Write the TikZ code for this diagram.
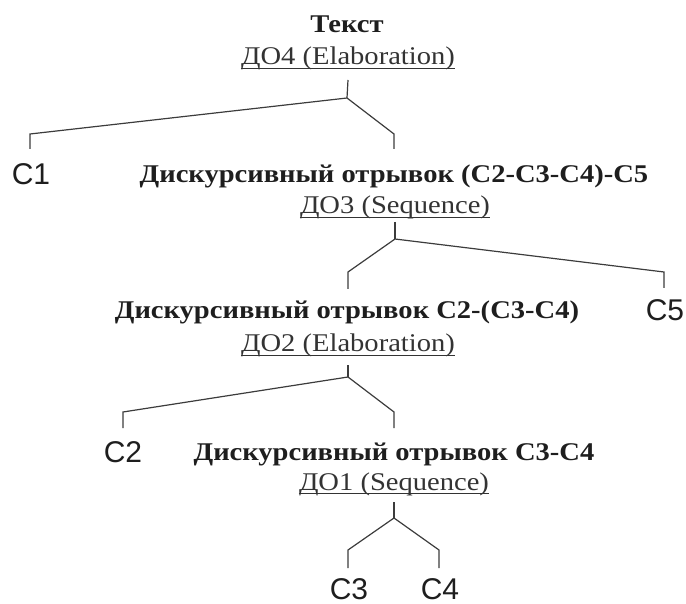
\documentclass[tikz,border=0pt]{standalone}
\usepackage{fontspec}
\newfontfamily\treeserif[FakeStretch=1.12]{Liberation Serif}
\newfontfamily\treesans{Liberation Sans}
\definecolor{ink}{HTML}{1E1E1E}
\definecolor{relink}{HTML}{333333}
\definecolor{linkgray}{HTML}{3C3C3C}
\tikzset{
  span/.style={anchor=base, inner sep=0pt, text=ink,
    font=\treeserif\fontsize{25.5}{29}\selectfont\bfseries},
  rel/.style={anchor=base, inner sep=0pt, text=relink,
    font=\treeserif\fontsize{25.5}{29}\selectfont},
  leaf/.style={anchor=base, inner sep=0pt, text=ink,
    font=\treesans\fontsize{30}{34}\selectfont},
  branch/.style={draw=linkgray, line width=1.2pt, line join=miter},
  relrule/.style={draw=relink, line width=0.9pt}
}
\begin{document}
\begin{tikzpicture}[x=1pt,y=-1pt]
\useasboundingbox (0,0) rectangle (686,604);

% level 0
\node[span] (t0) at (347,33) {Текст};
\node[rel]  (r4) at (348,65) {ДО4 (Elaboration)};
\coordinate (j4) at (347,98);

% level 1
\node[leaf] (c1) at (31,185) {C1};
\node[span] (d3) at (394,183) {Дискурсивный отрывок (С2-С3-С4)-С5};
\node[rel]  (r3) at (395,214) {ДО3 (Sequence)};
\coordinate (j3) at (395,239);

% level 2
\node[span] (d2) at (347,319) {Дискурсивный отрывок С2-(С3-С4)};
\node[leaf] (c5) at (665,321) {C5};
\node[rel]  (r2) at (348,352) {ДО2 (Elaboration)};
\coordinate (j2) at (348,377);

% level 3
\node[leaf] (c2) at (123,462) {C2};
\node[span] (d1) at (394,460) {Дискурсивный отрывок С3-С4};
\node[rel]  (r1) at (394,490) {ДО1 (Sequence)};
\coordinate (j1) at (394,518);

% level 4
\node[leaf] (c3) at (349,599) {C3};
\node[leaf] (c4) at (440,599) {C4};

% underlines of the relation labels
\foreach \r in {r4,r3,r2,r1}
  \draw[relrule] ([yshift=-3.5pt]\r.base west) -- ([yshift=-3.5pt]\r.base east);

% branches of ДО4
\draw[branch] ([yshift=-15pt]r4.base) -- (j4);
\draw[branch] (j4) -- ([xshift=-1pt,yshift=51pt]c1.base) -- ([xshift=-1pt,yshift=36pt]c1.base);
\draw[branch] (j4) -- ([yshift=49pt]d3.base) -- ([yshift=34pt]d3.base);

% branches of ДО3
\draw[branch] ([yshift=-8pt]r3.base) -- (j3);
\draw[branch] (j3) -- ([xshift=1pt,yshift=47pt]d2.base) -- ([xshift=1pt,yshift=30pt]d2.base);
\draw[branch] (j3) -- ([xshift=-1pt,yshift=49pt]c5.base) -- ([xshift=-1pt,yshift=33pt]c5.base);

% branches of ДО2
\draw[branch] ([yshift=-13pt]r2.base) -- (j2);
\draw[branch] (j2) -- ([yshift=50pt]c2.base) -- ([yshift=34pt]c2.base);
\draw[branch] (j2) -- ([yshift=48pt]d1.base) -- ([yshift=32pt]d1.base);

% branches of ДО1
\draw[branch] ([yshift=-12pt]r1.base) -- (j1);
\draw[branch] (j1) -- ([xshift=-1pt,yshift=49pt]c3.base) -- ([xshift=-1pt,yshift=31pt]c3.base);
\draw[branch] (j1) -- ([xshift=-1pt,yshift=49pt]c4.base) -- ([xshift=-1pt,yshift=31pt]c4.base);
\end{tikzpicture}
\end{document}
